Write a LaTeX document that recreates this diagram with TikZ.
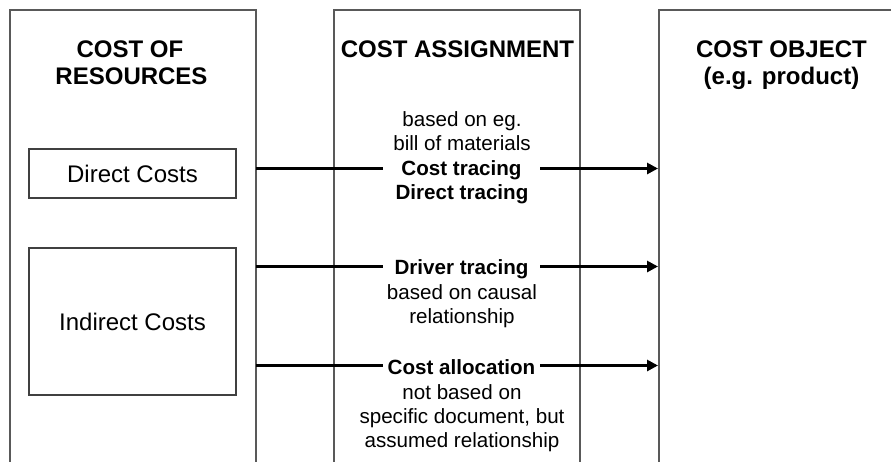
\documentclass[tikz,border=0pt]{standalone}
\usepackage{fontspec}
\setmainfont{Liberation Sans}
\usetikzlibrary{arrows.meta}
\begin{document}
\begin{tikzpicture}[x=1pt,y=-1pt,
  colframe/.style={draw=black!65,line width=1.6pt},
  costbox/.style={draw=black!75,line width=1.5pt,minimum width=207pt,inner sep=0pt,
    font=\fontsize{24}{29}\selectfont},
  head/.style={font=\fontsize{24}{29}\selectfont\bfseries,anchor=base,inner sep=0pt},
  note/.style={font=\fontsize{20.6}{24.5}\selectfont,anchor=base,inner sep=0pt},
  key/.style={font=\fontsize{20.6}{24.5}\selectfont\bfseries,anchor=base,inner sep=0pt,
    minimum width=157pt},
  flow/.style={line width=2.9pt},
  flowtip/.style={line width=2.9pt,-{Triangle[length=11pt,width=11pt]}}]
\useasboundingbox (0,0) rectangle (891,461);

% three open-bottomed columns
\draw[colframe] (10,465) -- (10,10) -- (256,10) -- (256,465);
\draw[colframe] (334,465) -- (334,10) -- (580,10) -- (580,465);
\draw[colframe] (659,465) -- (659,10) -- (895,10);

% column headings
\node[head] (h1a) at (130,57) {COST OF};
\node[head] (h1b) at (131.5,84) {RESOURCES};
\node[head] (h2)  at (457.5,57) {COST ASSIGNMENT};
\node[head] (h3a) at (781.5,57) {COST OBJECT};
\node[head] (h3b) at (781.5,84) {(e.g. product)};

% cost boxes
\node[costbox,minimum height=49pt]  (direct)   at (132.5,173.5) {Direct Costs};
\node[costbox,minimum height=147pt] (indirect) at (132.5,321.5) {Indirect Costs};

% edge points of the flows
\coordinate (s1) at (256,168.5);
\coordinate (t1) at (658,168.5);
\coordinate (s2) at (256,266.5);
\coordinate (t2) at (658,266.5);
\coordinate (s3) at (256,365.5);
\coordinate (t3) at (658,365.5);

% assignment labels
\node[note] (n1a) at (462,126) {based on eg.};
\node[note] (n1b) at (462,150.5) {bill of materials};
\node[key]  (k1)  at (461.5,175) {Cost tracing};
\node[key]  (k1b) at (462,199.3) {Direct tracing};

\node[key]  (k2)  at (461.5,274.5) {Driver tracing};
\node[note] (n2a) at (462,299) {based on causal};
\node[note] (n2b) at (462,323.5) {relationship};

\node[key]  (k3)  at (461.5,374) {Cost allocation};
\node[note] (n3a) at (462,399.5) {not based on};
\node[note] (n3b) at (462,423.5) {specific document, but};
\node[note] (n3c) at (462,447.5) {assumed relationship};

% flows, broken by their labels
\draw[flow] (s1) -- (k1.west |- s1);
\draw[flowtip] (k1.east |- t1) -- (t1);
\draw[flow] (s2) -- (k2.west |- s2);
\draw[flowtip] (k2.east |- t2) -- (t2);
\draw[flow] (s3) -- (k3.west |- s3);
\draw[flowtip] (k3.east |- t3) -- (t3);
\end{tikzpicture}
\end{document}
